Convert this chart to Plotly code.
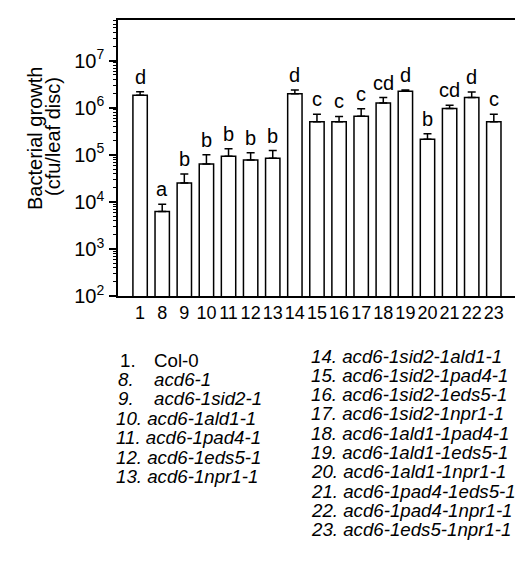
import math
import plotly.graph_objects as go

# ---- data ----
lines = ["1", "8", "9", "10", "11", "12", "13", "14", "15", "16", "17", "18", "19", "20", "21", "22", "23"]
growth = [1.84e6, 6.25e3, 2.51e4, 6.4e4, 9.3e4, 7.76e4, 8.5e4, 2.0e6, 5.07e5, 5.07e5,
          6.6e5, 1.27e6, 2.24e6, 2.15e5, 9.66e5, 1.65e6, 5.07e5]
err_up = [0.35e6, 2.7e3, 1.4e4, 3.6e4, 4.2e4, 3.3e4, 3.8e4, 0.4e6, 2.26e5, 1.5e5,
          2.9e5, 3.8e5, 0.16e6, 0.67e5, 1.7e5, 0.52e6, 2.2e5]
groups = ["d", "a", "b", "b", "b", "b", "b", "d", "c", "c", "c", "cd", "d", "b", "cd", "d", "c"]
ytick_exp = [2, 3, 4, 5, 6, 7]

left_nums = ["1.", "8.", "9."]
left_names = ["Col-0", "acd6-1", "acd6-1sid2-1"]
left_full = ["10. acd6-1ald1-1", "11. acd6-1pad4-1", "12. acd6-1eds5-1", "13. acd6-1npr1-1"]
right_full = ["14. acd6-1sid2-1ald1-1", "15. acd6-1sid2-1pad4-1", "16. acd6-1sid2-1eds5-1",
              "17. acd6-1sid2-1npr1-1", "18. acd6-1ald1-1pad4-1", "19. acd6-1ald1-1eds5-1",
              "20. acd6-1ald1-1npr1-1", "21. acd6-1pad4-1eds5-1", "22. acd6-1pad4-1npr1-1",
              "23. acd6-1eds5-1npr1-1"]

FONT = "Liberation Sans, Arial, Helvetica, sans-serif"
W, H = 523, 574
L, R, T, B = 110, 10, 12, 286
PW, PH = W - L - R, H - T - B

def px_x(px):
    return (px - L) / PW

def px_y(py):
    return (H - B - py) / PH

pos = list(range(len(lines)))

fig = go.Figure()
fig.add_trace(go.Bar(
    x=pos, y=growth, width=0.65,
    marker=dict(color="white", line=dict(color="black", width=1.5)),
    error_y=dict(type="data", symmetric=False, array=err_up, arrayminus=[0] * len(err_up),
                 color="black", thickness=1.5, width=4),
))

for p, g, e, grp in zip(pos, growth, err_up, groups):
    fig.add_annotation(x=p, y=math.log10(g + e), xref="x", yref="y", text=grp,
                       showarrow=False, yanchor="bottom", yshift=2,
                       font=dict(family=FONT, size=20, color="black"))

# y-axis title
fig.add_annotation(x=px_x(27), y=px_y(131), xref="paper", yref="paper", text="Bacterial growth",
                   textangle=-90, showarrow=False, xanchor="center", yanchor="middle",
                   font=dict(family=FONT, size=20, color="black"))
fig.add_annotation(x=px_x(45), y=px_y(129), xref="paper", yref="paper", text="(cfu/leaf disc)",
                   textangle=-90, showarrow=False, xanchor="center", yanchor="middle",
                   font=dict(family=FONT, size=20, color="black"))

# key text
lf = dict(family=FONT, size=18.7, color="black")
for i, (n, nm) in enumerate(zip(left_nums, left_names)):
    yy = px_y(352 + 19.4 * i)
    ntxt = n if i == 0 else "<i>" + n + "</i>"
    mtxt = nm if i == 0 else "<i>" + nm + "</i>"
    fig.add_annotation(x=px_x(110 if i == 0 else 108), y=yy, xref="paper", yref="paper", text=ntxt,
                       showarrow=False, xanchor="left", yanchor="middle", font=lf)
    fig.add_annotation(x=px_x(144), y=yy, xref="paper", yref="paper", text=mtxt,
                       showarrow=False, xanchor="left", yanchor="middle", font=lf)
for i, t in enumerate(left_full):
    fig.add_annotation(x=px_x(106), y=px_y(352 + 19.4 * (i + 3)), xref="paper", yref="paper",
                       text="<i>" + t + "</i>", showarrow=False, xanchor="left", yanchor="middle", font=lf)
for i, t in enumerate(right_full):
    fig.add_annotation(x=px_x(301), y=px_y(348 + 19.3 * i), xref="paper", yref="paper",
                       text="<i>" + t + "</i>", showarrow=False, xanchor="left", yanchor="middle", font=lf)

fig.update_layout(
    width=W, height=H, margin=dict(l=L, r=R, t=T, b=B, autoexpand=False),
    plot_bgcolor="white", paper_bgcolor="white", showlegend=False,
    font=dict(family=FONT, color="black"),
)
fig.update_xaxes(range=[-1.0, 17.23], showline=True, linecolor="black", linewidth=1.5,
                 mirror=True, ticks="", showgrid=False, zeroline=False, ticklabelstandoff=0,
                 tickmode="array", tickvals=pos, ticktext=lines, tickangle=0, automargin=False,
                 tickfont=dict(family=FONT, size=18, color="black"))
fig.update_yaxes(type="log", range=[2, 7.866], showline=True, linecolor="black", linewidth=1.5,
                 mirror=True, ticks="outside", ticklen=7, tickwidth=2, tickcolor="black",
                 tickvals=[10 ** k for k in ytick_exp], ticktext=["10<sup>%d</sup>" % k for k in ytick_exp],
                 minor=dict(ticks="outside", ticklen=3.5, tickwidth=1, tickcolor="black", dtick="D1", showgrid=False),
                 showgrid=False, zeroline=False, ticklabelstandoff=1, automargin=False,
                 tickfont=dict(family=FONT, size=20, color="black"))

fig.write_html("out.html")
